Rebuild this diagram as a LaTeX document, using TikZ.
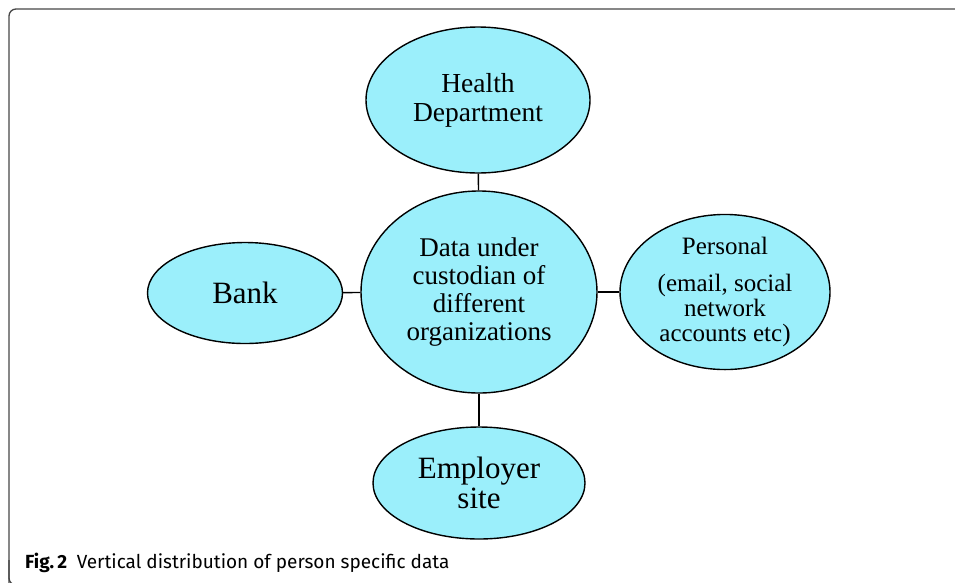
\documentclass[tikz,border=0pt]{standalone}
\usepackage{fontspec}
\setmainfont{Liberation Serif}
\newfontfamily\capfont{Fira Sans}
\usetikzlibrary{shapes.geometric}

\definecolor{bubblecyan}{RGB}{155,239,251}
\definecolor{framegray}{RGB}{70,70,70}

\tikzset{
    bubble/.style={ellipse, draw=black, line width=1.4pt, fill=bubblecyan,
        inner sep=0pt, align=center},
    link/.style={line width=1.4pt}
}

\begin{document}
\begin{tikzpicture}[x=1pt, y=-1pt]

\useasboundingbox (0,0) rectangle (955,582);
\clip (0,0) rectangle (955,582);

% =========================================================
% Frame and caption
% =========================================================

\draw[framegray, line width=1.3pt, rounded corners=7pt]
    (9,590) -- (9,9) -- (970,9);
\draw[framegray, line width=1.3pt, rounded corners=7pt]
    (9,560) -- (9,585) -- (40,585);

\node[anchor=base west, inner sep=0pt, font=\capfont\fontsize{19}{22}\selectfont]
    (caption) at (25,568) {\textbf{Fig.\,2}\hspace{0.5em}Vertical distribution of person specific data};


% =========================================================
% Centre
% =========================================================

\node[bubble, minimum width=236pt, minimum height=202pt,
      font=\fontsize{27}{28}\selectfont] (data) at (479,292)
    {Data under\\custodian of\\different\\organizations};


% =========================================================
% Surrounding organizations
% =========================================================

\node[bubble, minimum width=224pt, minimum height=146pt,
      font=\fontsize{27.5}{29}\selectfont] (health) at (478,100)
    {Health\\Department};

\node[bubble, minimum width=195pt, minimum height=101pt,
      font=\fontsize{31}{34}\selectfont] (bank) at (245,293)
    {Bank};

\node[bubble, minimum width=210pt, minimum height=141pt,
      font=\fontsize{25}{25}\selectfont] (personal) at (725,292)
    {Personal\\[12pt](email, social\\network\\accounts etc)};

\node[bubble, minimum width=212pt, minimum height=112pt,
      font=\fontsize{31}{30}\selectfont] (employer) at (479,483)
    {Employer\\site};


% =========================================================
% Links
% =========================================================

\draw[link] (health) -- (data);
\draw[link] (bank) -- (data);
\draw[link] (data) -- (personal);
\draw[link] (data) -- (employer);

\end{tikzpicture}
\end{document}
